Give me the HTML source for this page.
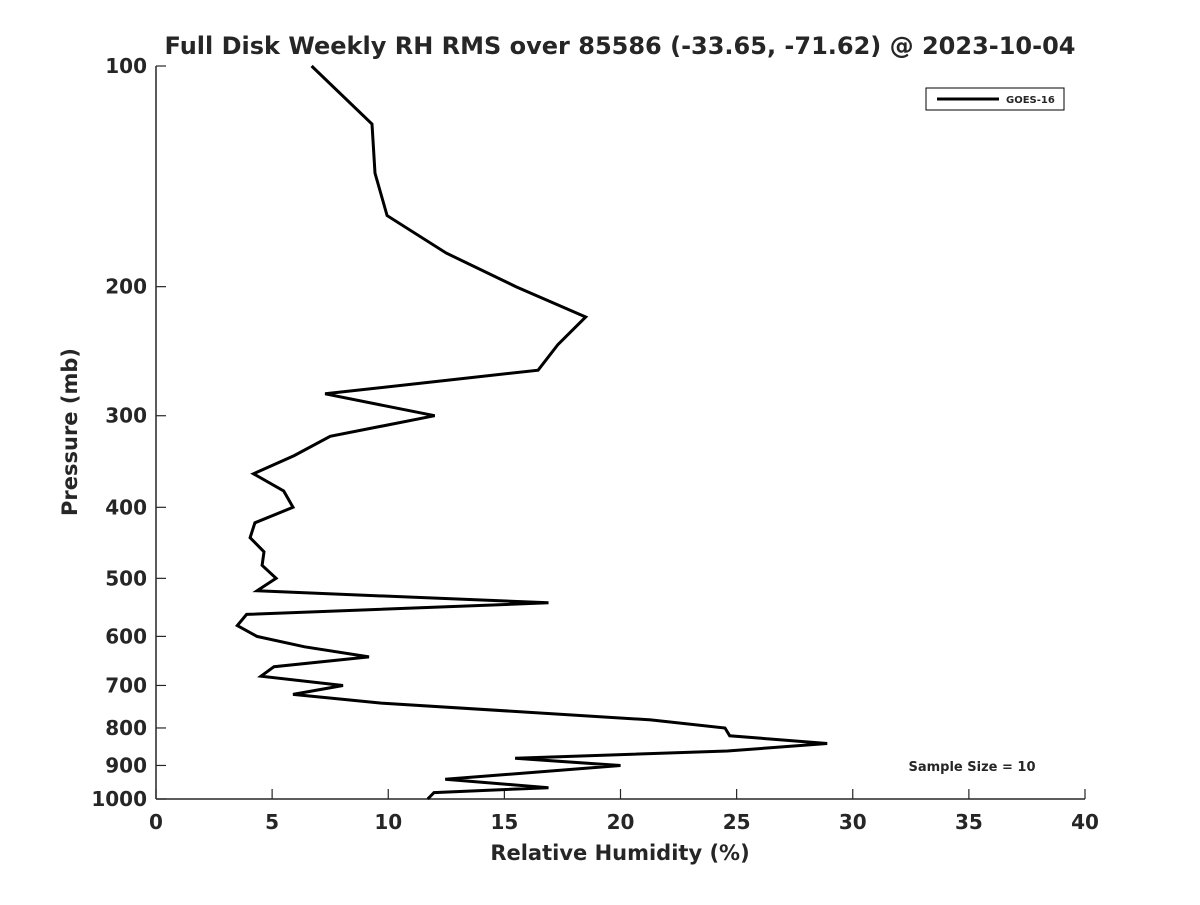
<!DOCTYPE html>
<html><head><meta charset="utf-8"><style>
body{margin:0;background:#fff;}
svg text{font-family:"DejaVu Sans","Liberation Sans",sans-serif;font-weight:bold;fill:#262626;}
</style></head><body>
<svg id="c" width="1200" height="900" xmlns="http://www.w3.org/2000/svg">
<rect width="1200" height="900" fill="#fff"/>
<text x="620" y="54" font-size="24" text-anchor="middle" fill="#000">Full Disk Weekly RH RMS over 85586 (-33.65, -71.62) @ 2023-10-04</text>
<g id="axes"></g>
<text x="620" y="860" font-size="21" text-anchor="middle">Relative Humidity (%)</text>
<text transform="translate(77,432) rotate(-90)" font-size="21" text-anchor="middle">Pressure (mb)</text>
<g>
<rect x="926" y="88" width="138" height="22" fill="#fff" stroke="#000" stroke-width="1"/>
<line x1="937" y1="99" x2="999" y2="99" stroke="#000" stroke-width="3"/>
<text x="1006" y="103" font-size="10" fill="#000">GOES-16</text>
</g>
<text x="972" y="771" font-size="13" text-anchor="middle" fill="#000">Sample Size = 10</text>
</svg>
<script>
const pressures=[100,120,140,160,180,200,220,240,260,280,300,320,340,360,380,400,420,440,460,480,500,520,540,560,580,600,620,640,660,680,700,720,740,780,800,820,840,860,880,900,940,965,980,1000];
const rhValues=[6.7,9.3,9.43,9.95,12.5,15.5,18.5,17.3,16.45,7.28,12.0,7.5,5.95,4.2,5.5,5.9,4.26,4.05,4.65,4.57,5.17,4.35,16.9,3.9,3.5,4.35,6.4,9.17,5.08,4.52,8.05,5.9,9.7,21.3,24.5,24.7,28.9,24.6,15.46,20.0,12.45,16.9,11.97,11.7];
const xTicks=[0,5,10,15,20,25,30,35,40];
const yTicks=[100,200,300,400,500,600,700,800,900,1000];
const X0=156,X1=1085,Y0=66,Y1=799;
const xs=v=>X0+(v-0)/(40-0)*(X1-X0);
const ys=p=>Y0+Math.log10(p/100)/Math.log10(10)*(Y1-Y0);
const NS="http://www.w3.org/2000/svg";
const svg=document.getElementById('c');
const axes=document.getElementById('axes');
function mk(t,a,parent){const e=document.createElementNS(NS,t);for(const k in a)e.setAttribute(k,a[k]);(parent||axes).appendChild(e);return e;}
const xl=mk('line',{x1:X0,y1:Y1,x2:X1,y2:Y1,stroke:'#262626','stroke-width':1.5});


const yl=mk('line',{x1:X0,y1:Y0,x2:X0,y2:Y1,stroke:'#262626','stroke-width':1.5});


xTicks.forEach(v=>{
 mk('line',{x1:xs(v),y1:Y1,x2:xs(v),y2:Y1-10,stroke:'#262626','stroke-width':1.2});
 const t=mk('text',{x:xs(v),y:Y1+30,'font-size':20,'text-anchor':'middle'});
 t.textContent=v;
 
 
});
yTicks.forEach(p=>{
 mk('line',{x1:X0,y1:ys(p),x2:X0+10,y2:ys(p),stroke:'#262626','stroke-width':1.2});
 const t=mk('text',{x:X0-9,y:ys(p)+7,'font-size':20,'text-anchor':'end'});
 t.textContent=p;
 
 
});
const pts=pressures.map((p,i)=>xs(rhValues[i]).toFixed(1)+','+ys(p).toFixed(1)).join(' ');
const line=mk('polyline',{points:pts,fill:'none',stroke:'#000','stroke-width':3,'stroke-linejoin':'miter'});


</script>
</body></html>
